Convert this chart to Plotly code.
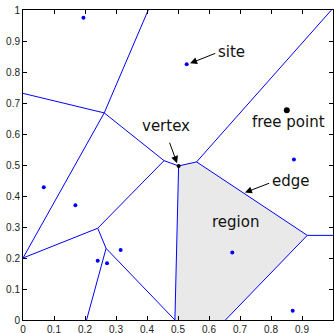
import plotly.graph_objects as go

# Sites (generators)
site_x = [0.195, 0.528, 0.067, 0.169, 0.241, 0.271, 0.315, 0.675, 0.874, 0.870]
site_y = [0.975, 0.825, 0.428, 0.370, 0.191, 0.183, 0.226, 0.218, 0.518, 0.030]

# Free point and highlighted vertex
free_x = [0.851]
free_y = [0.677]
vert_x = [0.502]
vert_y = [0.497]

# Voronoi edges (segment endpoints)
edge_x0 = [0.404, 0.000, 0.262, 0.000, 0.455, 0.502, 0.560, 0.560, 0.917, 0.917, 0.502, 0.455, 0.241, 0.241, 0.268, 0.268]
edge_y0 = [1.000, 0.731, 0.668, 0.200, 0.514, 0.497, 0.510, 0.510, 0.273, 0.273, 0.497, 0.514, 0.296, 0.296, 0.231, 0.231]
edge_x1 = [0.262, 0.262, 0.455, 0.262, 0.502, 0.560, 0.995, 0.917, 1.000, 0.653, 0.490, 0.241, 0.000, 0.268, 0.205, 0.490]
edge_y1 = [0.668, 0.668, 0.514, 0.668, 0.497, 0.510, 1.000, 0.273, 0.273, 0.000, 0.000, 0.296, 0.200, 0.231, 0.000, 0.000]

# Highlighted region polygon
region_x = [0.502, 0.560, 0.917, 0.653, 0.490]
region_y = [0.497, 0.510, 0.273, 0.000, 0.000]

tick_vals = [0, 0.1, 0.2, 0.3, 0.4, 0.5, 0.6, 0.7, 0.8, 0.9, 1]
tick_text = ["0", "0.1", "0.2", "0.3", "0.4", "0.5", "0.6", "0.7", "0.8", "0.9", "1"]

# Labels: text, text position, arrow tail, arrow head
labels = ["site", "vertex", "edge", "region", "free point"]
label_x = [0.673, 0.461, 0.864, 0.686, 0.855]
label_y = [0.866, 0.627, 0.449, 0.317, 0.640]
arrow_tail_x = [0.625, 0.471, 0.799]
arrow_tail_y = [0.862, 0.577, 0.443]
arrow_head_x = [0.539, 0.497, 0.716]
arrow_head_y = [0.828, 0.506, 0.411]

fig = go.Figure()

fig.add_trace(go.Scatter(
    x=region_x + [region_x[0]], y=region_y + [region_y[0]],
    fill="toself", fillcolor="#e9e9e9", mode="lines",
    line=dict(width=0, color="rgba(0,0,0,0)"), hoverinfo="skip"))

ex, ey = [], []
for a, b, c, d in zip(edge_x0, edge_y0, edge_x1, edge_y1):
    ex += [a, c, None]
    ey += [b, d, None]
fig.add_trace(go.Scatter(x=ex, y=ey, mode="lines",
                         line=dict(color="#0000ff", width=1)))

fig.add_trace(go.Scatter(x=site_x, y=site_y, mode="markers",
                         marker=dict(color="#0000ff", size=4)))
fig.add_trace(go.Scatter(x=free_x, y=free_y, mode="markers",
                         marker=dict(color="black", size=6)))
fig.add_trace(go.Scatter(x=vert_x, y=vert_y, mode="markers",
                         marker=dict(color="black", size=4)))

for t, x, y in zip(labels, label_x, label_y):
    fig.add_annotation(x=x, y=y, text=t, showarrow=False,
                       font=dict(family="DejaVu Sans", size=15, color="#111111"))
for tx, ty, hx, hy in zip(arrow_tail_x, arrow_tail_y, arrow_head_x, arrow_head_y):
    fig.add_annotation(x=hx, y=hy, ax=tx, ay=ty, axref="x", ayref="y",
                       xref="x", yref="y", text="", showarrow=True,
                       arrowhead=2, arrowsize=1.4, arrowwidth=1, arrowcolor="black")

axis_common = dict(range=[0, 1], tickvals=tick_vals, ticktext=tick_text,
                   showgrid=False, zeroline=False, showline=True,
                   linecolor="black", linewidth=1, mirror="ticks",
                   ticks="inside", ticklen=4, tickcolor="black", automargin=False,
                   tickfont=dict(family="Liberation Sans", size=10, color="#222222"))

fig.update_layout(
    width=334, height=333,
    margin=dict(l=23, r=1, t=10, b=13),
    paper_bgcolor="white", plot_bgcolor="white",
    showlegend=False,
    xaxis=dict(**axis_common, ticklabelstandoff=0),
    yaxis=dict(**axis_common),
)

fig.write_html("out.html",
               config={"displayModeBar": False},
               post_script="document.body.style.margin='0';document.body.style.overflow='hidden';")
